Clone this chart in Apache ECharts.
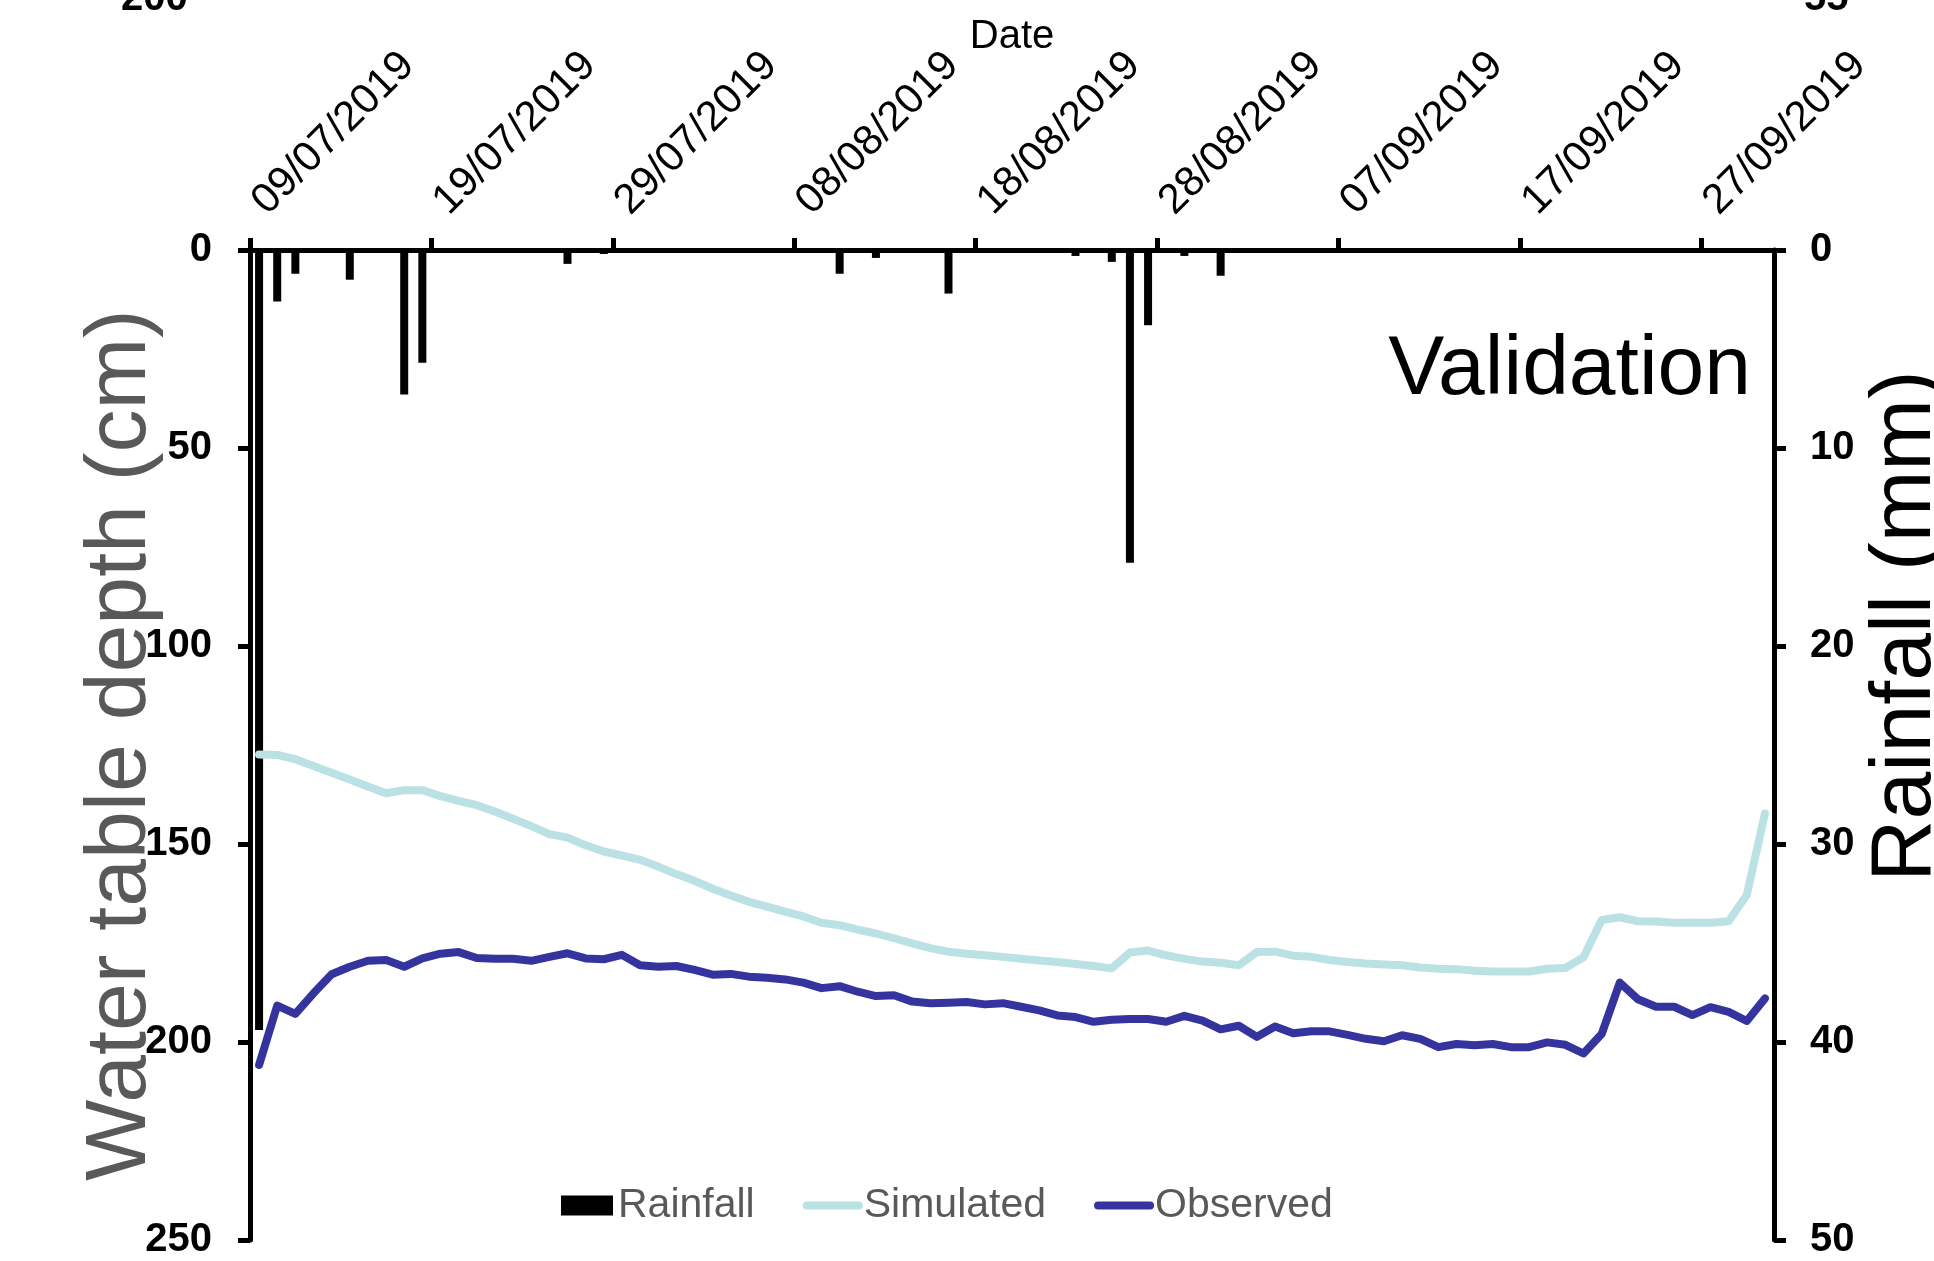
<!DOCTYPE html>
<html>
<head>
<meta charset="utf-8">
<title>Validation – water table depth and rainfall</title>
<script src="https://cdn.jsdelivr.net/npm/echarts@6/dist/echarts.min.js"></script>
<style>
  html, body { margin: 0; padding: 0; background: #ffffff; }
  #chart { width: 1934px; height: 1261px; }
</style>
</head>
<body>
<div id="chart"></div>
<script>
// Daily record, 09/07/2019 – 30/09/2019 (84 days)
const startDate = new Date(2019, 6, 9);
const dayCount = 84;
const dates = [];
for (let i = 0; i < dayCount; i++) {
  const d = new Date(startDate.getFullYear(), startDate.getMonth(), startDate.getDate() + i);
  dates.push(String(d.getDate()).padStart(2, '0') + '/' + String(d.getMonth() + 1).padStart(2, '0') + '/' + d.getFullYear());
}

// Date labels on the top axis, every 10 days
const tickLabels = ['09/07/2019', '19/07/2019', '29/07/2019', '08/08/2019', '18/08/2019',
                    '28/08/2019', '07/09/2019', '17/09/2019', '27/09/2019'];
const tickDays = [0, 10, 20, 30, 40, 50, 60, 70, 80];

// Daily rainfall (mm)
const rainfall = [
  39.4, 2.6, 1.2, 0, 0, 1.5, 0, 0, 7.3, 5.7,
  0, 0, 0, 0, 0, 0, 0, 0.7, 0, 0.2,
  0, 0, 0, 0, 0, 0, 0, 0, 0, 0,
  0, 0, 1.2, 0, 0.4, 0, 0, 0, 2.2, 0,
  0, 0, 0, 0, 0, 0.3, 0, 0.6, 15.8, 3.8,
  0, 0.3, 0, 1.3, 0, 0, 0, 0, 0, 0,
  0, 0, 0, 0, 0, 0, 0, 0, 0, 0,
  0, 0, 0, 0, 0, 0, 0, 0, 0, 0,
  0, 0, 0, 0
];

// Simulated water table depth (cm)
const simulated = [
  127.4, 127.5, 128.6, 130.3, 132.0, 133.7, 135.5, 137.2, 136.4, 136.4,
  137.9, 139.1, 140.2, 141.8, 143.6, 145.5, 147.5, 148.4, 150.3, 151.9,
  152.9, 154.0, 155.7, 157.6, 159.3, 161.3, 163.0, 164.6, 165.8, 167.1,
  168.3, 169.9, 170.5, 171.6, 172.6, 173.8, 175.1, 176.3, 177.2, 177.7,
  178.1, 178.5, 179.0, 179.4, 179.8, 180.3, 180.8, 181.4, 177.4, 176.9,
  178.1, 179.0, 179.7, 180.0, 180.6, 177.3, 177.2, 178.2, 178.5, 179.3,
  179.8, 180.2, 180.4, 180.6, 181.2, 181.5, 181.6, 182.0, 182.2, 182.2,
  182.2, 181.5, 181.3, 178.6, 169.2, 168.5, 169.5, 169.6, 169.9, 169.8,
  169.9, 169.5, 162.9, 142.3
];

// Observed water table depth (cm)
const observed = [
  205.8, 190.8, 192.9, 187.7, 182.9, 181.0, 179.5, 179.3, 181.0, 178.9,
  177.7, 177.3, 178.8, 179.0, 179.0, 179.5, 178.5, 177.6, 178.9, 179.1,
  178.0, 180.6, 181.0, 180.8, 181.8, 183.0, 182.8, 183.5, 183.8, 184.2,
  185.0, 186.4, 185.9, 187.3, 188.4, 188.2, 189.8, 190.2, 190.1, 189.9,
  190.5, 190.2, 191.1, 192.0, 193.3, 193.7, 194.9, 194.4, 194.2, 194.2,
  194.9, 193.4, 194.6, 196.8, 195.9, 198.7, 196.1, 197.8, 197.3, 197.3,
  198.2, 199.2, 199.8, 198.3, 199.2, 201.3, 200.5, 200.8, 200.5, 201.3,
  201.3, 200.1, 200.7, 202.9, 198.0, 185.0, 189.2, 191.1, 191.1, 193.2,
  191.2, 192.4, 194.7, 189.0
];

const FONT = 'Liberation Sans';
const LINE_WIDTH = 8;
const axisLine = { show: true, lineStyle: { color: '#000000', width: 5 } };
const axisTick = { show: true, inside: false, length: 12, lineStyle: { color: '#000000', width: 5 } };

const chart = echarts.init(document.getElementById('chart'), null, { renderer: 'canvas' });

chart.setOption({
  animation: false,
  backgroundColor: '#ffffff',
  grid: { left: 250, right: 160, top: 250, bottom: 21, containLabel: false, outerBoundsMode: 'none' },
  legend: {
    left: 561,
    top: 1185,
    padding: 0,
    itemWidth: 52,
    itemHeight: 20,
    itemGap: 48,
    textStyle: { fontFamily: FONT, fontSize: 41, color: '#595959' },
    data: [
      { name: 'Rainfall', icon: 'rect' },
      { name: 'Simulated', itemStyle: { opacity: 0 }, lineStyle: { width: LINE_WIDTH, cap: 'round' } },
      { name: 'Observed', itemStyle: { opacity: 0 }, lineStyle: { width: LINE_WIDTH, cap: 'round' } }
    ]
  },
  xAxis: [
    {
      // visible date axis, counted in days from the first record
      type: 'value',
      position: 'top',
      min: 0,
      max: dayCount,
      interval: 10,
      name: 'Date',
      nameLocation: 'middle',
      nameGap: 193,
      nameMoveOverlap: false,
      nameTextStyle: { fontFamily: FONT, fontSize: 40, color: '#000000' },
      axisLine: axisLine,
      axisTick: Object.assign({ customValues: tickDays }, axisTick),
      splitLine: { show: false },
      axisLabel: {
        customValues: tickDays,
        rotate: 45,
        margin: 33,
        padding: [22, 0, 0, 13],
        fontFamily: FONT,
        fontSize: 42,
        color: '#000000',
        formatter: function (v) { return tickLabels[Math.round(v / 10)] || ''; }
      }
    },
    {
      // one band per day for the bars and lines
      type: 'category',
      position: 'top',
      data: dates,
      boundaryGap: true,
      show: false
    }
  ],
  yAxis: [
    {
      type: 'value',
      inverse: true,
      min: 0,
      max: 250,
      interval: 50,
      position: 'left',
      name: 'Water table depth (cm)',
      nameLocation: 'middle',
      nameGap: 86,
      nameRotate: 90,
      nameMoveOverlap: false,
      nameTextStyle: { fontFamily: FONT, fontSize: 86, color: '#595959' },
      axisLine: axisLine,
      axisTick: axisTick,
      splitLine: { show: false },
      axisLabel: { margin: 38, fontFamily: FONT, fontSize: 40, fontWeight: 'bold', color: '#000000' }
    },
    {
      type: 'value',
      inverse: true,
      min: 0,
      max: 50,
      interval: 10,
      position: 'right',
      name: 'Rainfall (mm)',
      nameLocation: 'middle',
      nameGap: 89,
      nameRotate: 90,
      nameMoveOverlap: false,
      nameTextStyle: { fontFamily: FONT, fontSize: 86, color: '#000000', padding: [0, 0, 0, 238] },
      axisLine: axisLine,
      axisTick: axisTick,
      splitLine: { show: false },
      axisLabel: { margin: 36, fontFamily: FONT, fontSize: 40, fontWeight: 'bold', color: '#000000' }
    }
  ],
  series: [
    {
      name: 'Rainfall',
      type: 'bar',
      xAxisIndex: 1,
      yAxisIndex: 1,
      data: rainfall,
      barWidth: 8,
      itemStyle: { color: '#000000' },
      z: 1
    },
    {
      name: 'Simulated',
      type: 'line',
      xAxisIndex: 1,
      yAxisIndex: 0,
      data: simulated,
      symbol: 'none',
      color: '#bae1e3',
      lineStyle: { color: '#bae1e3', width: LINE_WIDTH, cap: 'round', join: 'round' },
      z: 3
    },
    {
      name: 'Observed',
      type: 'line',
      xAxisIndex: 1,
      yAxisIndex: 0,
      data: observed,
      symbol: 'none',
      color: '#35349e',
      lineStyle: { color: '#35349e', width: LINE_WIDTH, cap: 'round', join: 'round' },
      z: 4
    }
  ],
  graphic: [
    {
      type: 'text',
      x: 1751,
      y: 371,
      style: { text: 'Validation', font: '84px "Liberation Sans"', fill: '#000000', align: 'right', verticalAlign: 'middle' }
    },
    {
      // tick labels of the panel above, cut by the top edge
      type: 'text',
      x: 121,
      y: -1,
      style: { text: '200', font: 'bold 40px "Liberation Sans"', fill: '#000000', align: 'left', verticalAlign: 'middle' }
    },
    {
      type: 'text',
      x: 1804,
      y: -1,
      style: { text: '55', font: 'bold 40px "Liberation Sans"', fill: '#000000', align: 'left', verticalAlign: 'middle' }
    }
  ]
});
</script>
</body>
</html>
